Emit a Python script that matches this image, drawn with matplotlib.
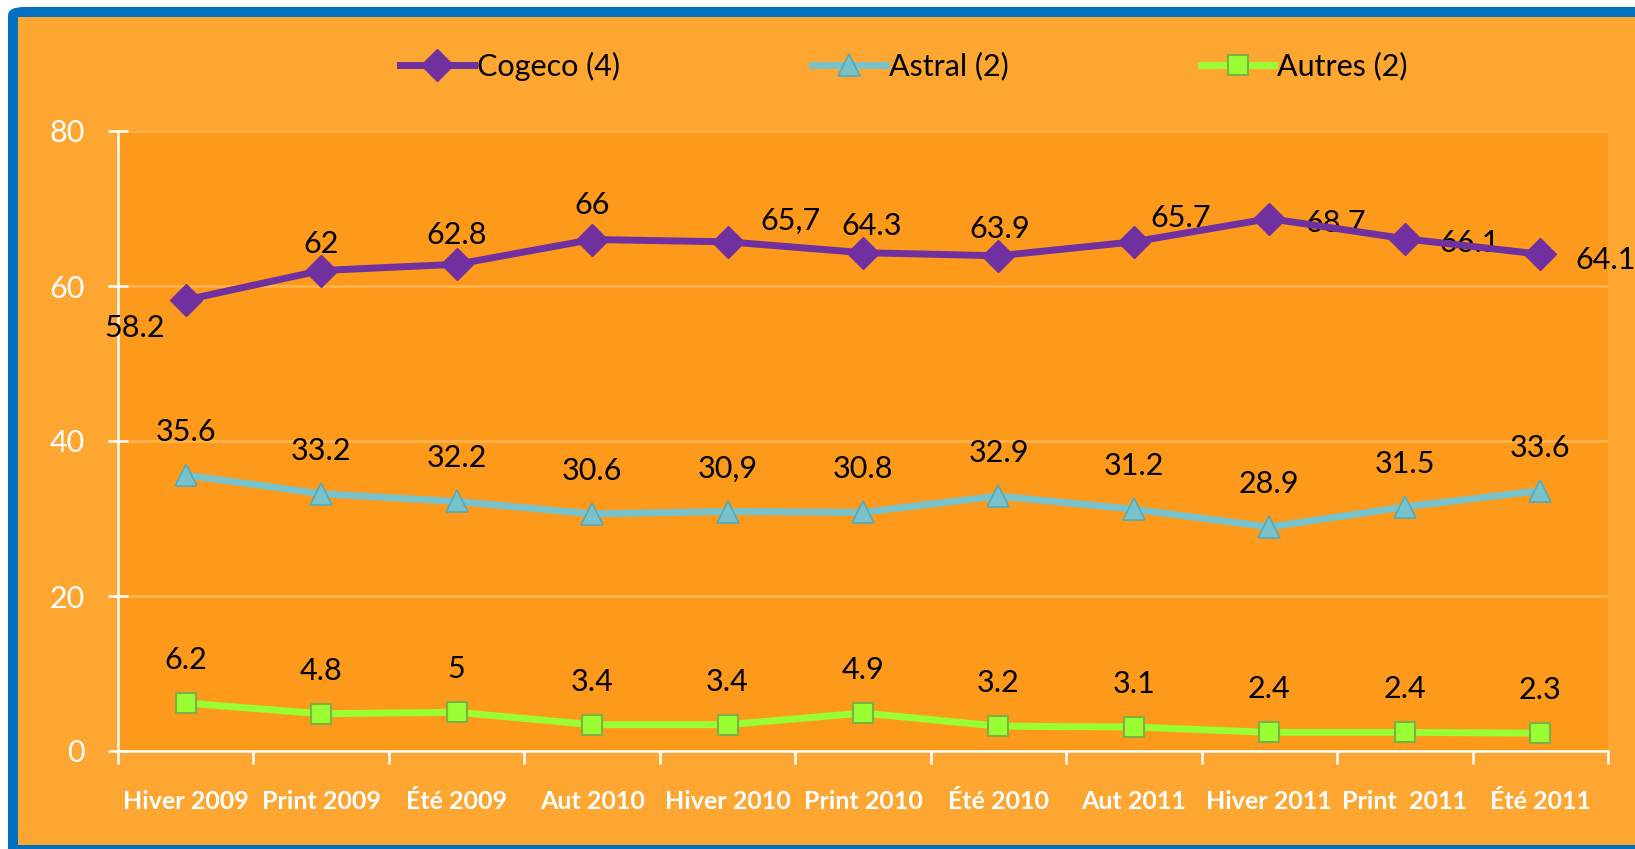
import matplotlib
matplotlib.use("Agg")
import matplotlib.pyplot as plt
from matplotlib.patches import Rectangle, FancyBboxPatch

# data
saisons = ["Hiver 2009", "Print 2009", "Été 2009", "Aut 2010", "Hiver 2010", "Print 2010",
           "Été 2010", "Aut 2011", "Hiver 2011", "Print  2011", "Été 2011"]
cogeco = [58.2, 62, 62.8, 66, 65.7, 64.3, 63.9, 65.7, 68.7, 66.1, 64.1]
astral = [35.6, 33.2, 32.2, 30.6, 30.9, 30.8, 32.9, 31.2, 28.9, 31.5, 33.6]
autres = [6.2, 4.8, 5, 3.4, 3.4, 4.9, 3.2, 3.1, 2.4, 2.4, 2.3]
cogeco_txt = ["58.2", "62", "62.8", "66", "65,7", "64.3", "63.9", "65.7", "68.7", "66.1", "64.1"]
astral_txt = ["35.6", "33.2", "32.2", "30.6", "30,9", "30.8", "32.9", "31.2", "28.9", "31.5", "33.6"]
autres_txt = ["6.2", "4.8", "5", "3.4", "3.4", "4.9", "3.2", "3.1", "2.4", "2.4", "2.3"]

# label offsets (points) for the top series, placed by hand like the original
cogeco_off = [(-37, -20), (0, 19), (0, 21), (0, 25), (45, 15), (6, 19),
              (1, 19), (34, 17), (48, -3), (47, -3), (47, -4)]

plt.rcParams['font.family'] = ['Lato', 'DejaVu Sans']

W, H = 1635, 849
fig = plt.figure(figsize=(W / 100, H / 100), dpi=100, facecolor="white")

# blue frame + light orange background (frame is cut on the right)
fig.patches.append(FancyBboxPatch((8 / W, -20 / H), 1.2, (849 - 7 + 20) / H,
                                  boxstyle="round,pad=0,rounding_size=0.01",
                                  transform=fig.transFigure, facecolor="#0070C0",
                                  edgecolor="none", zorder=-3))
fig.patches.append(Rectangle((18 / W, 4 / H), 1.2, (849 - 17 - 4) / H,
                             transform=fig.transFigure, facecolor="#FDA632",
                             edgecolor="none", zorder=-2))

ax = fig.add_axes([118 / W, 98 / H, 1490 / W, 620 / H])
ax.set_facecolor("#FD9A1B")
x = list(range(len(saisons)))

ax.plot(x, cogeco, color="#7030A0", lw=5, marker="D", ms=16, mfc="#7030A0",
        mec="#7030A0", label="Cogeco (4)", zorder=4, clip_on=False)
ax.plot(x, astral, color="#78C3CB", lw=5, marker="^", ms=16, mfc="#78C3CB",
        mec="#5AA8B2", mew=1.2, label="Astral (2)", zorder=4, clip_on=False)
ax.plot(x, autres, color="#99FF33", lw=5, marker="s", ms=15, mfc="#99FF33",
        mec="#7FB043", mew=1.5, label="Autres (2)", zorder=4, clip_on=False)

for i in x:
    ax.annotate(cogeco_txt[i], (i, cogeco[i]), xytext=cogeco_off[i], textcoords="offset points",
                ha="center", va="center", fontsize=22, color="black", annotation_clip=False)
    ax.annotate(astral_txt[i], (i, astral[i]), xytext=(0, 31), textcoords="offset points",
                ha="center", va="center", fontsize=22, color="black")
    ax.annotate(autres_txt[i], (i, autres[i]), xytext=(0, 31), textcoords="offset points",
                ha="center", va="center", fontsize=22, color="black")

ax.set_xlim(-0.5, len(saisons) - 0.5)
ax.set_ylim(0, 80)
ax.set_yticks([0, 20, 40, 60, 80])
ax.yaxis.grid(True, color="#FDB24E", lw=2)
ax.set_axisbelow(True)

ax.set_xticks(x)
ax.set_xticklabels(saisons, fontsize=18, fontweight="bold", color="white")
ax.set_xticks([i - 0.5 for i in range(len(saisons) + 1)], minor=True)
ax.tick_params(axis="x", which="major", length=0, pad=28)
ax.tick_params(axis="x", which="minor", direction="out", length=9, width=1.8, color="white")
ax.tick_params(axis="y", direction="inout", length=14, width=1.8, color="white",
               labelcolor="white", labelsize=22, pad=17)

for s in ["top", "right"]:
    ax.spines[s].set_visible(False)
for s in ["left", "bottom"]:
    ax.spines[s].set_color("white")
    ax.spines[s].set_linewidth(1.8)

fig.legend(loc="center", bbox_to_anchor=(0.553, 1 - 66 / H), ncol=3, frameon=False,
           fontsize=22, handlelength=2.4, handletextpad=0.1, columnspacing=6.3)

fig.savefig("out.png", dpi=100, facecolor=fig.get_facecolor())
